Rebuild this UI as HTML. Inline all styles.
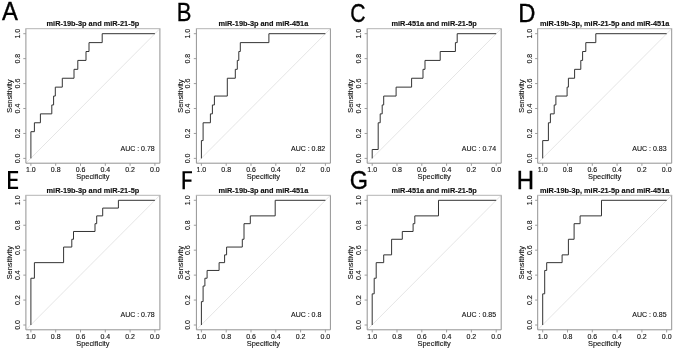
<!DOCTYPE html>
<html><head><meta charset="utf-8"><title>ROC curves</title>
<style>
html,body{margin:0;padding:0;background:#fff;}
body{width:675px;height:349px;overflow:hidden;}
svg{display:block;will-change:transform;}
text{font-family:"Liberation Sans",sans-serif;fill:#1a1a1a;}
.t{font-weight:bold;font-size:7.35px;text-anchor:middle;fill:#111;stroke:#111;stroke-width:0.15;}
.k{font-size:7.0px;text-anchor:middle;fill:#111;stroke:#111;stroke-width:0.12;}
.l{font-size:7.4px;text-anchor:middle;fill:#111;stroke:#111;stroke-width:0.12;}
.a{font-size:7.0px;fill:#111;stroke:#111;stroke-width:0.12;}
.L{font-size:25.5px;fill:#000;stroke:#000;stroke-width:0.35;}
.box{fill:none;stroke:#939393;stroke-width:1;}
.bt{fill:none;stroke:#b4b4b4;stroke-width:1;}
.tk{fill:none;stroke:#939393;stroke-width:0.9;}
.dg{fill:none;stroke:#dedede;stroke-width:0.8;}
.c{fill:none;stroke:#333;stroke-width:1;stroke-linejoin:miter;}
</style></head><body>
<svg width="675" height="349" viewBox="0 0 675 349">
<rect width="675" height="349" fill="#fff"/>

<g transform="translate(0.0,0.0)">
<text class="t" x="92.9" y="25.9">miR-19b-3p and miR-21-5p</text>
<path class="dg" d="M26.4 162.7L159.4 29.2"/>
<path class="box" d="M25.9 28.7V163.2H159.9V28.7"/>
<path class="bt" d="M25.4 28.7H160.4"/>
<path class="tk" d="M30.90 163.2v2.6M25.9 158.40h-2.6M55.70 163.2v2.6M25.9 133.46h-2.6M80.50 163.2v2.6M25.9 108.52h-2.6M105.30 163.2v2.6M25.9 83.58h-2.6M130.10 163.2v2.6M25.9 58.64h-2.6M154.90 163.2v2.6M25.9 33.70h-2.6"/>
<text class="k" x="30.90" y="172.3">1.0</text>
<text class="k" x="55.70" y="172.3">0.8</text>
<text class="k" x="80.50" y="172.3">0.6</text>
<text class="k" x="105.30" y="172.3">0.4</text>
<text class="k" x="130.10" y="172.3">0.2</text>
<text class="k" x="154.90" y="172.3">0.0</text>
<text class="k" transform="translate(19.8,158.40) rotate(-90)">0.0</text>
<text class="k" transform="translate(19.8,133.46) rotate(-90)">0.2</text>
<text class="k" transform="translate(19.8,108.52) rotate(-90)">0.4</text>
<text class="k" transform="translate(19.8,83.58) rotate(-90)">0.6</text>
<text class="k" transform="translate(19.8,58.64) rotate(-90)">0.8</text>
<text class="k" transform="translate(19.8,33.70) rotate(-90)">1.0</text>
<text class="l" x="92.9" y="179.3">Specificity</text>
<text class="l" transform="translate(12.0,96.1) rotate(-90)">Sensitivity</text>
<text class="a" x="120.5" y="150.5">AUC : 0.78</text>
<path class="c" d="M30.9 158.40L30.9 131.68L34.4 131.68L34.4 122.77L40.4 122.77L40.4 113.86L51.8 113.86L51.8 104.96L53.6 104.96L53.6 96.05L55.3 96.05L55.3 87.14L62.3 87.14L62.3 78.24L74.0 78.24L74.0 69.33L77.8 69.33L77.8 60.42L86.0 60.42L86.0 51.51L89.0 51.51L89.0 42.61L102.2 42.61L102.2 33.70L154.9 33.70"/>
</g>
<g transform="translate(170.5,0.0)">
<text class="t" x="92.9" y="25.9">miR-19b-3p and miR-451a</text>
<path class="dg" d="M26.4 162.7L159.4 29.2"/>
<path class="box" d="M25.9 28.7V163.2H159.9V28.7"/>
<path class="bt" d="M25.4 28.7H160.4"/>
<path class="tk" d="M30.90 163.2v2.6M25.9 158.40h-2.6M55.70 163.2v2.6M25.9 133.46h-2.6M80.50 163.2v2.6M25.9 108.52h-2.6M105.30 163.2v2.6M25.9 83.58h-2.6M130.10 163.2v2.6M25.9 58.64h-2.6M154.90 163.2v2.6M25.9 33.70h-2.6"/>
<text class="k" x="30.90" y="172.3">1.0</text>
<text class="k" x="55.70" y="172.3">0.8</text>
<text class="k" x="80.50" y="172.3">0.6</text>
<text class="k" x="105.30" y="172.3">0.4</text>
<text class="k" x="130.10" y="172.3">0.2</text>
<text class="k" x="154.90" y="172.3">0.0</text>
<text class="k" transform="translate(19.8,158.40) rotate(-90)">0.0</text>
<text class="k" transform="translate(19.8,133.46) rotate(-90)">0.2</text>
<text class="k" transform="translate(19.8,108.52) rotate(-90)">0.4</text>
<text class="k" transform="translate(19.8,83.58) rotate(-90)">0.6</text>
<text class="k" transform="translate(19.8,58.64) rotate(-90)">0.8</text>
<text class="k" transform="translate(19.8,33.70) rotate(-90)">1.0</text>
<text class="l" x="92.9" y="179.3">Specificity</text>
<text class="l" transform="translate(12.0,96.1) rotate(-90)">Sensitivity</text>
<text class="a" x="120.5" y="150.5">AUC : 0.82</text>
<path class="c" d="M30.9 158.40L30.9 140.59L32.6 140.59L32.6 122.77L39.9 122.77L39.9 113.86L41.9 113.86L41.9 104.96L43.9 104.96L43.9 96.05L56.8 96.05L56.8 78.24L64.8 78.24L64.8 69.33L66.8 69.33L66.8 60.42L68.3 60.42L68.3 51.51L69.8 51.51L69.8 42.61L98.4 42.61L98.4 33.70L154.9 33.70"/>
</g>
<g transform="translate(341.3,0.0)">
<text class="t" x="92.9" y="25.9">miR-451a and miR-21-5p</text>
<path class="dg" d="M26.4 162.7L159.4 29.2"/>
<path class="box" d="M25.9 28.7V163.2H159.9V28.7"/>
<path class="bt" d="M25.4 28.7H160.4"/>
<path class="tk" d="M30.90 163.2v2.6M25.9 158.40h-2.6M55.70 163.2v2.6M25.9 133.46h-2.6M80.50 163.2v2.6M25.9 108.52h-2.6M105.30 163.2v2.6M25.9 83.58h-2.6M130.10 163.2v2.6M25.9 58.64h-2.6M154.90 163.2v2.6M25.9 33.70h-2.6"/>
<text class="k" x="30.90" y="172.3">1.0</text>
<text class="k" x="55.70" y="172.3">0.8</text>
<text class="k" x="80.50" y="172.3">0.6</text>
<text class="k" x="105.30" y="172.3">0.4</text>
<text class="k" x="130.10" y="172.3">0.2</text>
<text class="k" x="154.90" y="172.3">0.0</text>
<text class="k" transform="translate(19.8,158.40) rotate(-90)">0.0</text>
<text class="k" transform="translate(19.8,133.46) rotate(-90)">0.2</text>
<text class="k" transform="translate(19.8,108.52) rotate(-90)">0.4</text>
<text class="k" transform="translate(19.8,83.58) rotate(-90)">0.6</text>
<text class="k" transform="translate(19.8,58.64) rotate(-90)">0.8</text>
<text class="k" transform="translate(19.8,33.70) rotate(-90)">1.0</text>
<text class="l" x="92.9" y="179.3">Specificity</text>
<text class="l" transform="translate(12.0,96.1) rotate(-90)">Sensitivity</text>
<text class="a" x="120.5" y="150.5">AUC : 0.74</text>
<path class="c" d="M30.9 158.40L30.9 149.49L36.9 149.49L36.9 122.77L38.9 122.77L38.9 113.86L40.9 113.86L40.9 104.96L42.4 104.96L42.4 96.05L54.8 96.05L54.8 87.14L70.3 87.14L70.3 78.24L81.7 78.24L81.7 69.33L83.7 69.33L83.7 60.42L98.9 60.42L98.9 51.51L114.1 51.51L114.1 42.61L115.9 42.61L115.9 33.70L154.9 33.70"/>
</g>
<g transform="translate(511.8,0.0)">
<text class="t" x="92.9" y="25.9">miR-19b-3p, miR-21-5p and miR-451a</text>
<path class="dg" d="M26.4 162.7L159.4 29.2"/>
<path class="box" d="M25.9 28.7V163.2H159.9V28.7"/>
<path class="bt" d="M25.4 28.7H160.4"/>
<path class="tk" d="M30.90 163.2v2.6M25.9 158.40h-2.6M55.70 163.2v2.6M25.9 133.46h-2.6M80.50 163.2v2.6M25.9 108.52h-2.6M105.30 163.2v2.6M25.9 83.58h-2.6M130.10 163.2v2.6M25.9 58.64h-2.6M154.90 163.2v2.6M25.9 33.70h-2.6"/>
<text class="k" x="30.90" y="172.3">1.0</text>
<text class="k" x="55.70" y="172.3">0.8</text>
<text class="k" x="80.50" y="172.3">0.6</text>
<text class="k" x="105.30" y="172.3">0.4</text>
<text class="k" x="130.10" y="172.3">0.2</text>
<text class="k" x="154.90" y="172.3">0.0</text>
<text class="k" transform="translate(19.8,158.40) rotate(-90)">0.0</text>
<text class="k" transform="translate(19.8,133.46) rotate(-90)">0.2</text>
<text class="k" transform="translate(19.8,108.52) rotate(-90)">0.4</text>
<text class="k" transform="translate(19.8,83.58) rotate(-90)">0.6</text>
<text class="k" transform="translate(19.8,58.64) rotate(-90)">0.8</text>
<text class="k" transform="translate(19.8,33.70) rotate(-90)">1.0</text>
<text class="l" x="92.9" y="179.3">Specificity</text>
<text class="l" transform="translate(12.0,96.1) rotate(-90)">Sensitivity</text>
<text class="a" x="120.5" y="150.5">AUC : 0.83</text>
<path class="c" d="M30.9 158.40L30.9 140.59L36.6 140.59L36.6 122.77L38.6 122.77L38.6 113.86L42.4 113.86L42.4 104.96L44.1 104.96L44.1 96.05L55.3 96.05L55.3 87.14L56.6 87.14L56.6 78.24L62.8 78.24L62.8 69.33L69.0 69.33L69.0 60.42L70.8 60.42L70.8 51.51L74.0 51.51L74.0 42.61L84.0 42.61L84.0 33.70L154.9 33.70"/>
</g>
<g transform="translate(0.0,166.6)">
<text class="t" x="92.9" y="26.7">miR-19b-3p and miR-21-5p</text>
<path class="dg" d="M26.4 162.7L159.4 29.2"/>
<path class="box" d="M25.9 28.7V163.2H159.9V28.7"/>
<path class="bt" d="M25.4 28.7H160.4"/>
<path class="tk" d="M30.90 163.2v2.6M25.9 158.40h-2.6M55.70 163.2v2.6M25.9 133.46h-2.6M80.50 163.2v2.6M25.9 108.52h-2.6M105.30 163.2v2.6M25.9 83.58h-2.6M130.10 163.2v2.6M25.9 58.64h-2.6M154.90 163.2v2.6M25.9 33.70h-2.6"/>
<text class="k" x="30.90" y="172.3">1.0</text>
<text class="k" x="55.70" y="172.3">0.8</text>
<text class="k" x="80.50" y="172.3">0.6</text>
<text class="k" x="105.30" y="172.3">0.4</text>
<text class="k" x="130.10" y="172.3">0.2</text>
<text class="k" x="154.90" y="172.3">0.0</text>
<text class="k" transform="translate(19.8,158.40) rotate(-90)">0.0</text>
<text class="k" transform="translate(19.8,133.46) rotate(-90)">0.2</text>
<text class="k" transform="translate(19.8,108.52) rotate(-90)">0.4</text>
<text class="k" transform="translate(19.8,83.58) rotate(-90)">0.6</text>
<text class="k" transform="translate(19.8,58.64) rotate(-90)">0.8</text>
<text class="k" transform="translate(19.8,33.70) rotate(-90)">1.0</text>
<text class="l" x="92.9" y="179.3">Specificity</text>
<text class="l" transform="translate(12.0,96.1) rotate(-90)">Sensitivity</text>
<text class="a" x="120.5" y="150.5">AUC : 0.78</text>
<path class="c" d="M30.9 158.40L30.9 111.64L34.4 111.64L34.4 96.05L63.6 96.05L63.6 80.46L71.8 80.46L71.8 72.67L73.5 72.67L73.5 64.88L95.0 64.88L95.0 57.08L96.7 57.08L96.7 49.29L102.7 49.29L102.7 41.49L118.4 41.49L118.4 33.70L154.9 33.70"/>
</g>
<g transform="translate(170.5,166.6)">
<text class="t" x="92.9" y="26.7">miR-19b-3p and miR-451a</text>
<path class="dg" d="M26.4 162.7L159.4 29.2"/>
<path class="box" d="M25.9 28.7V163.2H159.9V28.7"/>
<path class="bt" d="M25.4 28.7H160.4"/>
<path class="tk" d="M30.90 163.2v2.6M25.9 158.40h-2.6M55.70 163.2v2.6M25.9 133.46h-2.6M80.50 163.2v2.6M25.9 108.52h-2.6M105.30 163.2v2.6M25.9 83.58h-2.6M130.10 163.2v2.6M25.9 58.64h-2.6M154.90 163.2v2.6M25.9 33.70h-2.6"/>
<text class="k" x="30.90" y="172.3">1.0</text>
<text class="k" x="55.70" y="172.3">0.8</text>
<text class="k" x="80.50" y="172.3">0.6</text>
<text class="k" x="105.30" y="172.3">0.4</text>
<text class="k" x="130.10" y="172.3">0.2</text>
<text class="k" x="154.90" y="172.3">0.0</text>
<text class="k" transform="translate(19.8,158.40) rotate(-90)">0.0</text>
<text class="k" transform="translate(19.8,133.46) rotate(-90)">0.2</text>
<text class="k" transform="translate(19.8,108.52) rotate(-90)">0.4</text>
<text class="k" transform="translate(19.8,83.58) rotate(-90)">0.6</text>
<text class="k" transform="translate(19.8,58.64) rotate(-90)">0.8</text>
<text class="k" transform="translate(19.8,33.70) rotate(-90)">1.0</text>
<text class="l" x="92.9" y="179.3">Specificity</text>
<text class="l" transform="translate(12.0,96.1) rotate(-90)">Sensitivity</text>
<text class="a" x="120.5" y="150.5">AUC : 0.8</text>
<path class="c" d="M30.9 158.40L30.9 135.02L32.6 135.02L32.6 119.43L34.4 119.43L34.4 111.64L36.6 111.64L36.6 103.84L48.6 103.84L48.6 96.05L54.1 96.05L54.1 88.26L56.1 88.26L56.1 80.46L71.8 80.46L71.8 72.67L73.5 72.67L73.5 57.08L79.8 57.08L79.8 49.29L104.7 49.29L104.7 33.70L154.9 33.70"/>
</g>
<g transform="translate(341.3,166.6)">
<text class="t" x="92.9" y="26.7">miR-451a and miR-21-5p</text>
<path class="dg" d="M26.4 162.7L159.4 29.2"/>
<path class="box" d="M25.9 28.7V163.2H159.9V28.7"/>
<path class="bt" d="M25.4 28.7H160.4"/>
<path class="tk" d="M30.90 163.2v2.6M25.9 158.40h-2.6M55.70 163.2v2.6M25.9 133.46h-2.6M80.50 163.2v2.6M25.9 108.52h-2.6M105.30 163.2v2.6M25.9 83.58h-2.6M130.10 163.2v2.6M25.9 58.64h-2.6M154.90 163.2v2.6M25.9 33.70h-2.6"/>
<text class="k" x="30.90" y="172.3">1.0</text>
<text class="k" x="55.70" y="172.3">0.8</text>
<text class="k" x="80.50" y="172.3">0.6</text>
<text class="k" x="105.30" y="172.3">0.4</text>
<text class="k" x="130.10" y="172.3">0.2</text>
<text class="k" x="154.90" y="172.3">0.0</text>
<text class="k" transform="translate(19.8,158.40) rotate(-90)">0.0</text>
<text class="k" transform="translate(19.8,133.46) rotate(-90)">0.2</text>
<text class="k" transform="translate(19.8,108.52) rotate(-90)">0.4</text>
<text class="k" transform="translate(19.8,83.58) rotate(-90)">0.6</text>
<text class="k" transform="translate(19.8,58.64) rotate(-90)">0.8</text>
<text class="k" transform="translate(19.8,33.70) rotate(-90)">1.0</text>
<text class="l" x="92.9" y="179.3">Specificity</text>
<text class="l" transform="translate(12.0,96.1) rotate(-90)">Sensitivity</text>
<text class="a" x="120.5" y="150.5">AUC : 0.85</text>
<path class="c" d="M30.9 158.40L30.9 127.23L32.9 127.23L32.9 111.64L34.9 111.64L34.9 96.05L42.4 96.05L42.4 88.26L50.3 88.26L50.3 72.67L61.0 72.67L61.0 64.88L71.8 64.88L71.8 57.08L73.5 57.08L73.5 49.29L97.2 49.29L97.2 33.70L154.9 33.70"/>
</g>
<g transform="translate(511.8,166.6)">
<text class="t" x="92.9" y="26.7">miR-19b-3p, miR-21-5p and miR-451a</text>
<path class="dg" d="M26.4 162.7L159.4 29.2"/>
<path class="box" d="M25.9 28.7V163.2H159.9V28.7"/>
<path class="bt" d="M25.4 28.7H160.4"/>
<path class="tk" d="M30.90 163.2v2.6M25.9 158.40h-2.6M55.70 163.2v2.6M25.9 133.46h-2.6M80.50 163.2v2.6M25.9 108.52h-2.6M105.30 163.2v2.6M25.9 83.58h-2.6M130.10 163.2v2.6M25.9 58.64h-2.6M154.90 163.2v2.6M25.9 33.70h-2.6"/>
<text class="k" x="30.90" y="172.3">1.0</text>
<text class="k" x="55.70" y="172.3">0.8</text>
<text class="k" x="80.50" y="172.3">0.6</text>
<text class="k" x="105.30" y="172.3">0.4</text>
<text class="k" x="130.10" y="172.3">0.2</text>
<text class="k" x="154.90" y="172.3">0.0</text>
<text class="k" transform="translate(19.8,158.40) rotate(-90)">0.0</text>
<text class="k" transform="translate(19.8,133.46) rotate(-90)">0.2</text>
<text class="k" transform="translate(19.8,108.52) rotate(-90)">0.4</text>
<text class="k" transform="translate(19.8,83.58) rotate(-90)">0.6</text>
<text class="k" transform="translate(19.8,58.64) rotate(-90)">0.8</text>
<text class="k" transform="translate(19.8,33.70) rotate(-90)">1.0</text>
<text class="l" x="92.9" y="179.3">Specificity</text>
<text class="l" transform="translate(12.0,96.1) rotate(-90)">Sensitivity</text>
<text class="a" x="120.5" y="150.5">AUC : 0.85</text>
<path class="c" d="M30.9 158.40L30.9 127.23L32.9 127.23L32.9 103.84L34.9 103.84L34.9 96.05L50.3 96.05L50.3 88.26L56.6 88.26L56.6 72.67L62.3 72.67L62.3 57.08L68.3 57.08L68.3 49.29L89.7 49.29L89.7 33.70L154.9 33.70"/>
</g>
<text class="L" id="LA" transform="translate(1.95,20.10) scale(0.935,1)">A</text>
<text class="L" id="LB" transform="translate(176.70,21.40) scale(0.862,1)">B</text>
<text class="L" id="LC" transform="translate(350.32,21.50) scale(0.830,1)">C</text>
<text class="L" id="LD" transform="translate(518.35,21.90) scale(0.934,1)">D</text>
<text class="L" id="LG" transform="translate(349.63,188.70) scale(0.919,1)">G</text>
<text class="L" id="LH" transform="translate(516.83,188.90) scale(0.940,1)">H</text>
<path id="LE" fill="#000" d="M8.0 171.1H18.1V173.25H10.4V178.8H17.5V180.95H10.4V186.75H18.1V188.9H8.0Z"/>
<path id="LF" fill="#000" d="M182.5 171.2H192.0V173.35H184.9V179.6H191.5V181.75H184.9V189.3H182.5Z"/>
</svg></body></html>
